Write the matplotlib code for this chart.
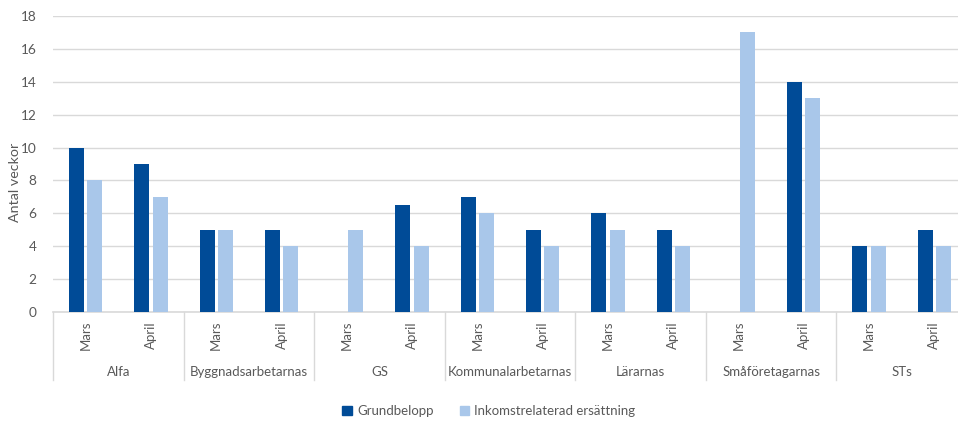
import numpy as np
import matplotlib
matplotlib.use("Agg")
import matplotlib.pyplot as plt
from matplotlib.patches import Patch
from matplotlib.transforms import blended_transform_factory

plt.rcParams["font.family"] = ["Lato", "DejaVu Sans"]

# ---------------------------------------------------------
# Data
# ---------------------------------------------------------
groups = ["Alfa", "Byggnadsarbetarnas", "GS", "Kommunalarbetarnas",
          "Lärarnas", "Småföretagarnas", "STs"]
months = ["Mars", "April"]

grundbelopp = [10, 9, 5, 5, 0, 6.5, 7, 5, 6, 5, 0, 14, 4, 5]
inkomst = [8, 7, 5, 4, 5, 4, 6, 4, 5, 4, 17, 13, 4, 4]

DARK = "#004B97"
LIGHT = "#A9C7EA"
GRID = "#D9D9D9"
TXT = "#595959"

W, H = 958, 421
fig = plt.figure(figsize=(W / 100, H / 100), dpi=100)

left_px, right_px = 53, 967
top_px, zero_px = 16, 312
ax = fig.add_axes([left_px / W, (H - zero_px) / H,
                   (right_px - left_px) / W, (zero_px - top_px) / H])

n = len(grundbelopp)
x = np.arange(n)
bw = 0.23
off = 0.14
ax.bar(x - off, grundbelopp, width=bw, color=DARK, zorder=3)
ax.bar(x + off, inkomst, width=bw, color=LIGHT, zorder=3)

ax.set_xlim(-0.5, n - 0.5)
ax.set_ylim(0, 18)
ax.set_yticks(range(0, 19, 2))
ax.yaxis.grid(True, color=GRID, linewidth=1, zorder=0)
ax.set_axisbelow(True)
for s in ["top", "right", "left"]:
    ax.spines[s].set_visible(False)
ax.spines["bottom"].set_color(GRID)
ax.spines["bottom"].set_linewidth(1.2)
ax.tick_params(axis="y", length=0, pad=12, labelsize=9.8, labelcolor=TXT)
ax.tick_params(axis="x", length=0, labelbottom=False)

fig.text(15 / W, (H - 182) / H, "Antal veckor", rotation=90, ha="center",
         va="center", fontsize=10.3, color=TXT)

# ---------------------------------------------------------
# Two-level category axis
# ---------------------------------------------------------
trans = blended_transform_factory(ax.transData, ax.transAxes)
ax_h = zero_px - top_px
y_month = -(335.5 - zero_px) / ax_h
y_group = -(372 - zero_px) / ax_h
y_end = -(380 - zero_px) / ax_h

for i in range(n):
    ax.text(x[i], y_month, months[i % 2], rotation=90, ha="center",
            va="center", fontsize=9.5, color=TXT, transform=trans)

for g, name in enumerate(groups):
    ax.text(2 * g + 0.5, y_group, name, ha="center", va="center",
            fontsize=9.5, color=TXT, transform=trans)

for b in range(len(groups) + 1):
    xb = 2 * b - 0.5
    ax.plot([xb, xb], [0, y_end], color=GRID, linewidth=1,
            transform=trans, clip_on=False)

# ---------------------------------------------------------
# Legend
# ---------------------------------------------------------
handles = [Patch(color=DARK, label="Grundbelopp"),
           Patch(color=LIGHT, label="Inkomstrelaterad ersättning")]
leg = fig.legend(handles=handles, loc="center", bbox_to_anchor=(489 / W, (H - 411) / H),
                 ncol=2, frameon=False, fontsize=9.5, handlelength=0.7,
                 handleheight=0.7, handletextpad=0.4, columnspacing=2.0)
for t in leg.get_texts():
    t.set_color(TXT)

fig.savefig("out.png", dpi=100)
